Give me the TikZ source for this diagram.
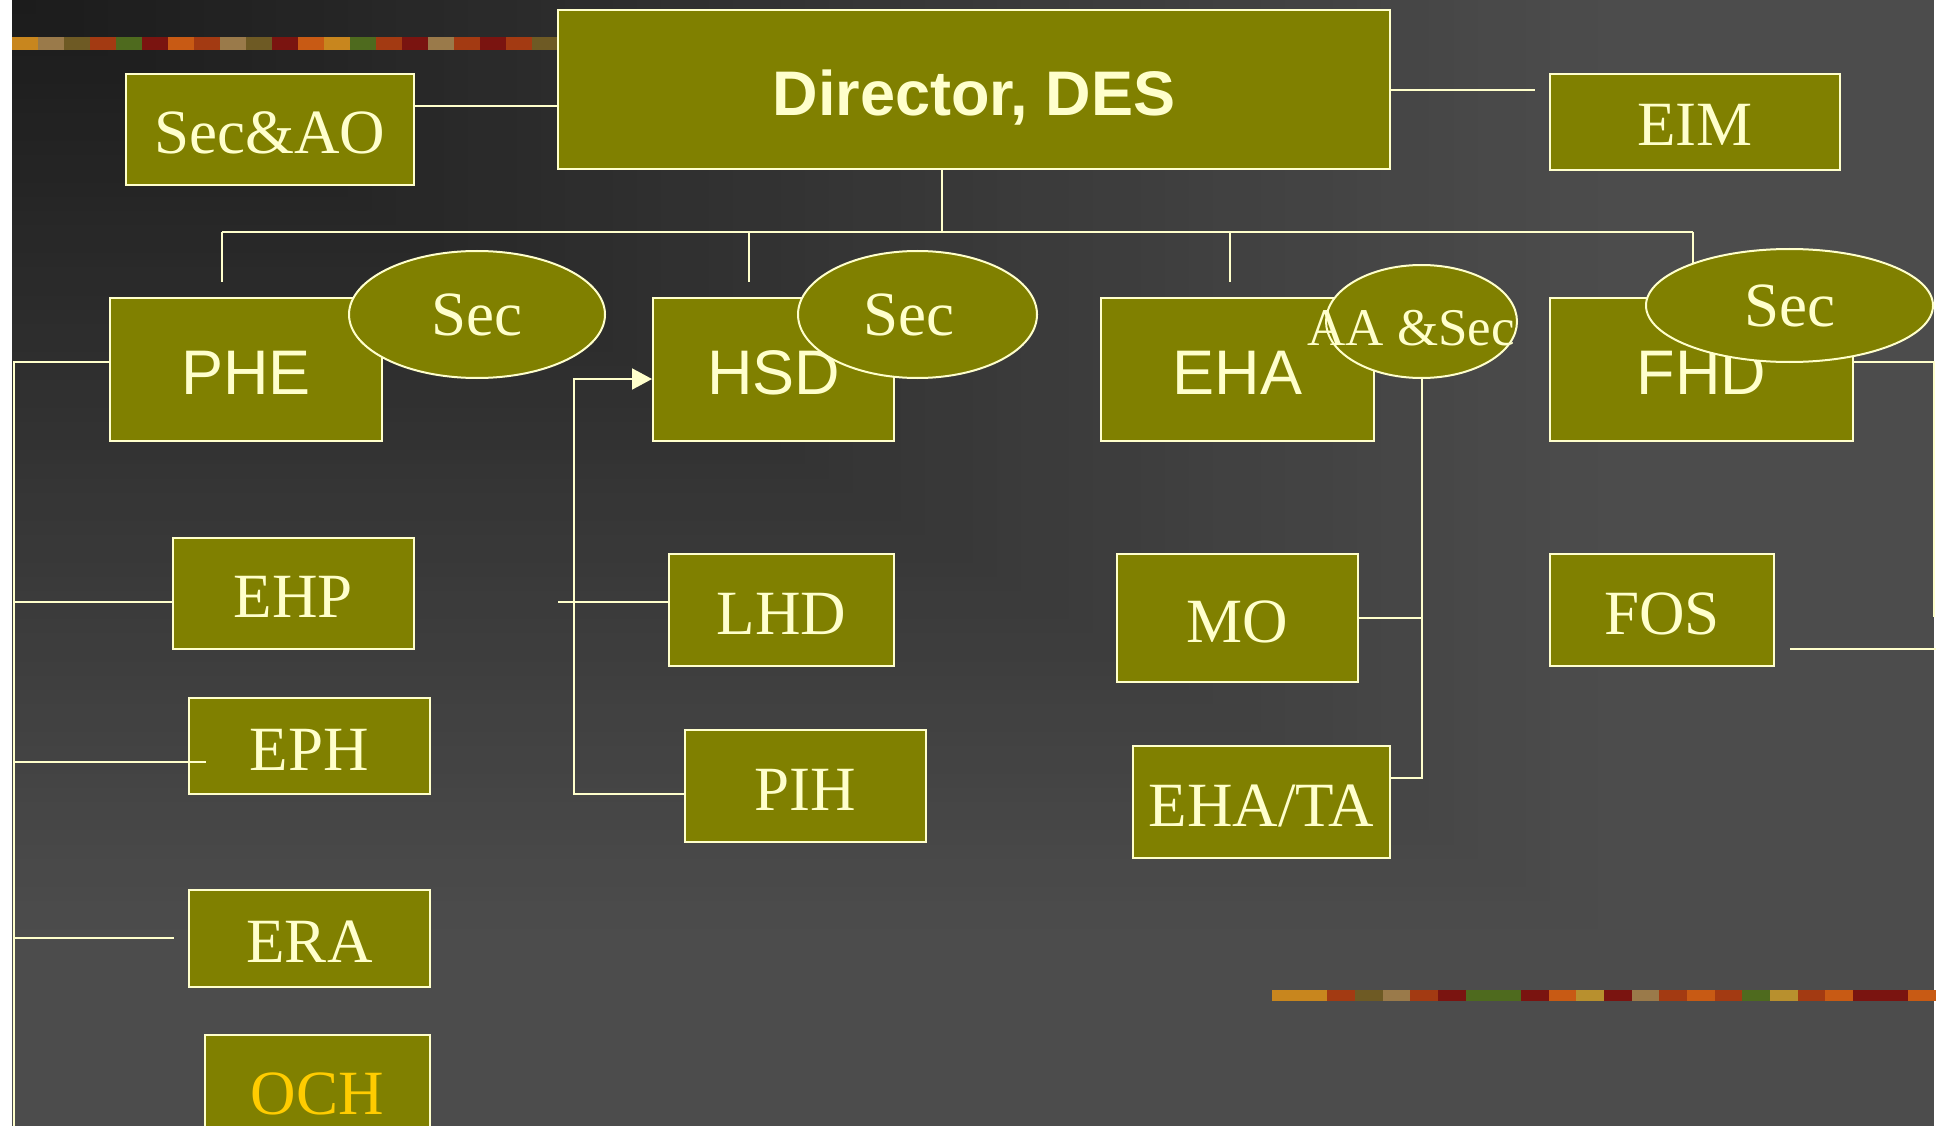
\documentclass[tikz,border=0pt]{standalone}
\usepackage{fontspec}
\setmainfont{Liberation Serif}
\newfontfamily\arialfont{Liberation Sans}
\usetikzlibrary{arrows.meta,shapes.geometric}
\definecolor{boxOlive}{HTML}{808000}
\definecolor{cream}{HTML}{FFFFCC}
\definecolor{ochGold}{HTML}{FFCC00}
\definecolor{bgDark}{HTML}{1B1B1B}
\definecolor{bgLight}{HTML}{4C4C4C}
\definecolor{leafA}{HTML}{C8861E}
\definecolor{leafB}{HTML}{9A7A4A}
\definecolor{leafC}{HTML}{4E6A1E}
\definecolor{leafD}{HTML}{A33A12}
\definecolor{leafE}{HTML}{7A1410}
\definecolor{leafF}{HTML}{C85A14}
\definecolor{leafG}{HTML}{6E5A24}
\definecolor{leafH}{HTML}{B8902E}

\begin{document}
\begin{tikzpicture}[x=1pt, y=-1pt,
  unit/.style={rectangle,draw=cream,fill=boxOlive,line width=2pt,text=cream,inner sep=0pt,
    text height=48pt,text depth=0pt,font=\fontsize{63}{70}\selectfont},
  unitsf/.style={unit,text height=50pt,font=\arialfont\fontsize{63}{70}\selectfont},
  head/.style={unit,text height=53pt,font=\arialfont\bfseries\fontsize{63}{70}\selectfont},
  oval/.style={ellipse,draw=cream,fill=boxOlive,line width=2pt,text=cream,inner sep=0pt,font=\fontsize{63}{70}\selectfont},
  link/.style={draw=cream,line width=2pt}
]
\useasboundingbox (0,0) rectangle (1936,1126);
\fill[white] (0,0) rectangle (1936,1126);
% slide background, darker towards the top left corner
\foreach \i in {80,...,1}{
  \pgfmathsetmacro\f{\i/80}
  \pgfmathsetmacro\p{min(100,120*\f)}
  \fill[bgLight!\p!bgDark] (12,0) rectangle ({12+1922*\f},{1126*\f});
}
% leaf strips
\foreach \c [count=\i from 0] in {leafA,leafB,leafG,leafD,leafC,leafE,leafF,leafD,leafB,leafG,leafE,
  leafF,leafA,leafC,leafD,leafE,leafB,leafD,leafE,leafD,leafG}
  \fill[\c] ({12+26*\i},37) rectangle ++(26,13);
\foreach \c [count=\i from 0] in {leafA,leafA,leafD,leafG,leafB,leafD,leafE,leafC,leafC,leafE,leafF,leafH,
  leafE,leafB,leafD,leafF,leafD,leafC,leafH,leafD,leafF,leafE,leafE,leafF}
  \fill[\c] ({1272+27.67*\i},990) rectangle ++(27.67,11);

\node[head,minimum width=832,minimum height=159] (dir) at (974,89.5) {Director, DES};
\node[unit,minimum width=288,minimum height=111] (secao) at (270,129.5) {Sec\&AO};
\node[unit,minimum width=290,minimum height=96] (eim) at (1695,122) {EIM};
\node[unitsf,minimum width=272,minimum height=143] (phe) at (246,369.5) {PHE};
\node[unitsf,minimum width=241,minimum height=143] (hsd) at (773.5,369.5) {HSD};
\node[unitsf,minimum width=273,minimum height=143] (eha) at (1237.5,369.5) {EHA};
\node[unitsf,minimum width=303,minimum height=143] (fhd) at (1701.5,369.5) {FHD};
\node[unit,minimum width=241,minimum height=111] (ehp) at (293.5,593.5) {EHP};
\node[unit,minimum width=241,minimum height=96] (eph) at (309.5,746) {EPH};
\node[unit,minimum width=241,minimum height=97] (era) at (309.5,938.5) {ERA};
\node[unit,minimum width=225,minimum height=110,text=ochGold] (och) at (317.5,1090) {OCH};
\node[unit,minimum width=225,minimum height=112] (lhd) at (781.5,610) {LHD};
\node[unit,minimum width=241,minimum height=112] (pih) at (805.5,786) {PIH};
\node[unit,minimum width=241,minimum height=128] (mo) at (1237.5,618) {MO};
\node[unit,minimum width=257,minimum height=112] (ehata) at (1261.5,802) {EHA/TA};
\node[unit,minimum width=224,minimum height=112] (fos) at (1662,610) {FOS};
% secretaries
\node[oval,minimum width=256,minimum height=127] (pheSec) at (477,314.5) {Sec};
\node[oval,minimum width=239,minimum height=127] (hsdSec) at (917.5,314.5) {Sec\kern18pt\null};
\node[oval,minimum width=191,minimum height=113] (ehaSec) at (1421.5,321.5) {};
\node[text=cream,font=\fontsize{53}{60}\selectfont,inner sep=0pt] (ehaSecT) at (1411,328) {AA \&Sec};
\node[oval,minimum width=287,minimum height=113] (fhdSec) at (1789.5,305.5) {Sec};

% top level
\coordinate (hub) at (942,232);
\coordinate (dPHE) at (222,282);
\coordinate (dHSD) at (749,282);
\coordinate (dEHA) at (1230,282);
\coordinate (dFHD) at (1693,264);
\coordinate (jAO) at (558,106);
\coordinate (jEIM) at (1535,90);
\draw[link] (dir.south -| hub) -- (hub);
\draw[link] (dPHE |- hub) -- (dFHD |- hub);
\foreach \d in {dPHE,dHSD,dEHA,dFHD}
  \draw[link] (\d |- hub) -- (\d);
\draw[link] (secao.east |- jAO) -- (jAO);
\draw[link] (dir.east |- jEIM) -- (jEIM);

% PHE
\coordinate (trTop) at (14,362);
\coordinate (trBot) at (14,1130);
\coordinate (jEHP) at (14,602);
\coordinate (jEPH) at (14,762);
\coordinate (jERA) at (14,938);
\coordinate (eEPH) at (206,762);
\coordinate (eERA) at (174,938);
\draw[link] (trBot) -- (trTop) -- (trTop -| phe.west);
\draw[link] (jEHP) -- (jEHP -| ehp.west);
\draw[link] (jEPH) -- (eEPH);
\draw[link] (jERA) -- (eERA);

% HSD
\coordinate (jHSD) at (574,379);
\coordinate (jPIH) at (574,794);
\coordinate (jLHD) at (558,602);
\draw[link,-{Triangle[length=20pt,width=21pt]}] (pih.west |- jPIH) -- (jPIH) -- (jHSD) -- (jHSD -| hsd.west);
\draw[link] (jLHD) -- (jLHD -| lhd.west);

% EHA
\coordinate (jTA) at (1421.5,778);
\draw[link] (ehaSec.south) -- (jTA) -- (jTA -| ehata.east);
\draw[link] (mo.east) -- (mo.east -| jTA);

% FHD
\coordinate (jFHD) at (1934,362);
\coordinate (jFOS) at (1934,617);
\coordinate (sFOS) at (1790,649);
\coordinate (eFOS) at (1936,649);
\draw[link] (fhd.east |- jFHD) -- (jFHD) -- (jFOS);
\draw[link] (sFOS) -- (eFOS);
\end{tikzpicture}
\end{document}
